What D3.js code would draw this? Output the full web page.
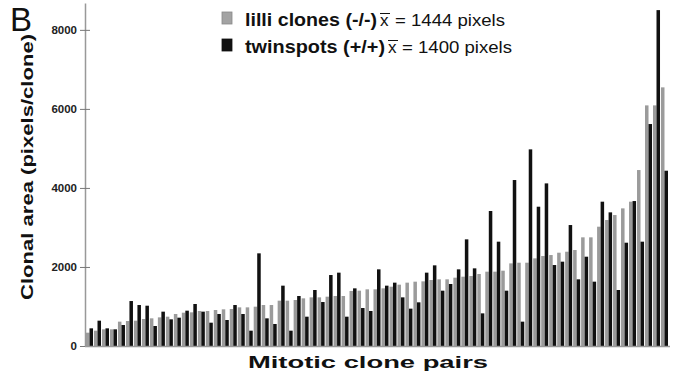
<!DOCTYPE html>
<html>
<head>
<meta charset="utf-8">
<script src="https://cdn.jsdelivr.net/npm/d3@7"></script>
<style>
  body { margin: 0; background: #fff; }
  svg { display: block; font-family: "Liberation Sans", Arial, sans-serif; }
</style>
</head>
<body>
<svg id="chart" width="678" height="379"></svg>
<script>
// lilli (-/-) clone area, sorted ascending, one per mitotic clone pair
const lilliValues = [337, 388, 422, 422, 616, 632, 641, 683, 700, 725, 742, 810, 843, 852, 886, 886, 911, 928, 936,
  978, 978, 995, 1037, 1037, 1147, 1147, 1164, 1206, 1231, 1231, 1248, 1265, 1265, 1392, 1400, 1434, 1434,
  1459, 1501, 1552, 1603, 1628, 1636, 1670, 1687, 1687, 1729, 1754, 1771, 1822, 1881, 1881, 1906, 2091, 2108, 2108,
  2218, 2277, 2302, 2361, 2386, 2429, 2750, 2750, 3019, 3188, 3314, 3483, 3652, 4453, 6089, 6089, 6545];

// twinspot (+/+) area for the same pair
const twinValues = [447, 641, 447, 422, 531, 1138, 1037, 1020, 506, 869, 675, 717, 894, 1063, 869, 590, 810, 658, 1037,
  810, 388, 2345, 700, 557, 1527, 388, 1265, 742, 1417, 1113, 1796, 1856, 742, 1459, 961, 886, 1940,
  1527, 1603, 1231, 945, 1105, 1856, 2041, 1400, 1569, 1940, 2699, 1965, 826, 3416, 2640, 1400, 4200, 616, 4976,
  3525, 4115, 2049, 2134, 3061, 1687, 2260, 1628, 3652, 3382, 1417, 2614, 3668, 2640, 5617, 8500, 4436];

const pairs = lilliValues.map((_, i) => i + 1);
const series = ['lilli', 'twin'];
const yTicks = [0, 2000, 4000, 6000, 8000];
const legendItems = [
  { key: 'lilli', label: 'lilli clones (-/-)', mean: 1444 },
  { key: 'twin', label: 'twinspots (+/+)', mean: 1400 }
];

const colors = { lilli: '#9b9b9b', twin: '#111' };
const svg = d3.select('#chart');

const axisX = 85, baseY = 346;

const x = d3.scaleBand()
  .domain(pairs)
  .range([86, 668])
  .paddingInner(0.12);

const xInner = d3.scaleBand()
  .domain(series)
  .range([0, x.bandwidth()]);

const y = d3.scaleLinear()
  .domain([0, 8680])
  .range([baseY, 3]);

// bars
const rows = pairs.map((p, i) => ({ pair: p, lilli: lilliValues[i], twin: twinValues[i] }));
svg.append('g')
  .selectAll('g')
  .data(rows)
  .enter()
  .append('g')
  .attr('transform', d => `translate(${x(d.pair)},0)`)
  .selectAll('rect')
  .data(d => series.map(k => ({ key: k, value: d[k] })))
  .enter()
  .append('rect')
  .attr('x', d => xInner(d.key))
  .attr('y', d => y(d.value))
  .attr('width', xInner.bandwidth())
  .attr('height', d => baseY - y(d.value))
  .attr('fill', d => colors[d.key]);

// y axis
const yAxis = svg.append('g')
  .attr('transform', `translate(${axisX},0)`)
  .call(d3.axisLeft(y).tickValues(yTicks).tickFormat(d3.format('d'))
    .tickSize(5).tickPadding(3).tickSizeOuter(0));
yAxis.select('.domain').attr('stroke', '#999').attr('stroke-width', 1.5);
yAxis.selectAll('.tick line').attr('x1', -5).attr('x2', 5).attr('stroke', '#777');
yAxis.selectAll('.tick text')
  .attr('font-size', 11.5)
  .attr('font-weight', 'bold')
  .attr('font-family', '"Liberation Sans", Arial, sans-serif')
  .attr('fill', '#222');

// x axis baseline
svg.append('line')
  .attr('x1', axisX).attr('x2', 670)
  .attr('y1', baseY + 0.5).attr('y2', baseY + 0.5)
  .attr('stroke', '#999').attr('stroke-width', 1.5);

// panel letter
svg.append('text')
  .attr('x', 10).attr('y', 31)
  .attr('font-size', 33)
  .attr('fill', '#111')
  .text('B');

// axis titles
svg.append('text')
  .attr('transform', 'translate(33,167) rotate(-90)')
  .attr('text-anchor', 'middle')
  .attr('font-size', 16)
  .attr('font-weight', 'bold')
  .attr('textLength', 266)
  .attr('lengthAdjust', 'spacingAndGlyphs')
  .attr('fill', '#111')
  .text('Clonal area (pixels/clone)');

svg.append('text')
  .attr('x', 368).attr('y', 368)
  .attr('text-anchor', 'middle')
  .attr('font-size', 16)
  .attr('font-weight', 'bold')
  .attr('textLength', 240)
  .attr('lengthAdjust', 'spacingAndGlyphs')
  .attr('fill', '#111')
  .text('Mitotic clone pairs');

// legend
const legend = svg.append('g');
const lg = legend.selectAll('g')
  .data(legendItems)
  .enter()
  .append('g')
  .attr('transform', (d, i) => `translate(0,${i * 27})`);

lg.append('rect')
  .attr('x', 222).attr('y', 12)
  .attr('width', 10).attr('height', 12)
  .attr('fill', d => d.key === 'lilli' ? '#a3a3a3' : '#111')
  .attr('stroke', d => d.key === 'lilli' ? '#888' : '#111')
  .attr('stroke-width', 0.8);

lg.append('text')
  .attr('x', 245).attr('y', 26)
  .attr('font-size', 17.5)
  .attr('font-weight', 'bold')
  .attr('textLength', (d, i) => i === 0 ? 132 : 140)
  .attr('lengthAdjust', 'spacingAndGlyphs')
  .attr('fill', '#111')
  .text(d => d.label);

lg.append('text')
  .attr('x', (d, i) => i === 0 ? 380 : 388).attr('y', 26)
  .attr('font-size', 17)
  .attr('fill', '#111')
  .text('x');

lg.append('line')
  .attr('x1', (d, i) => i === 0 ? 380 : 388)
  .attr('x2', (d, i) => i === 0 ? 390 : 398)
  .attr('y1', 13.5).attr('y2', 13.5)
  .attr('stroke', '#111').attr('stroke-width', 1);

lg.append('text')
  .attr('x', (d, i) => i === 0 ? 395 : 402).attr('y', 26)
  .attr('font-size', 17)
  .attr('textLength', 110)
  .attr('lengthAdjust', 'spacingAndGlyphs')
  .attr('fill', '#111')
  .text(d => `= ${d.mean} pixels`);
</script>
</body>
</html>
